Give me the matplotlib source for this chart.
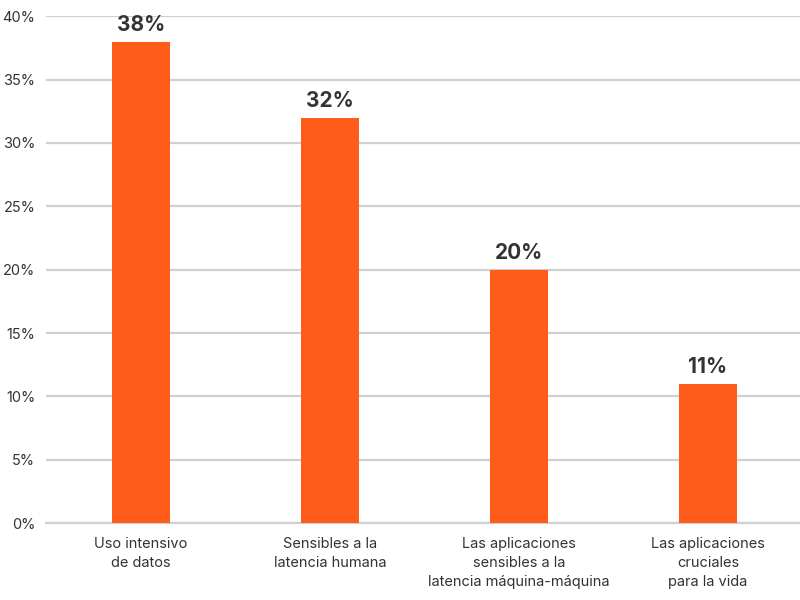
import matplotlib.pyplot as plt
import numpy as np

plt.rcParams['font.family'] = ['Inter', 'DejaVu Sans']

categories = ['Uso intensivo\nde datos',
              'Sensibles a la\nlatencia humana',
              'Las aplicaciones\nsensibles a la\nlatencia máquina-máquina',
              'Las aplicaciones\ncruciales\npara la vida']
values = [38, 32, 20, 11]
yticks = [0, 5, 10, 15, 20, 25, 30, 35, 40]

fig = plt.figure(figsize=(8, 6), dpi=100)
ax = fig.add_axes([0.058, 0.128, 0.945, 0.845])

x = np.arange(len(categories))
ax.bar(x, values, width=0.31, color='#FF5B1B', zorder=3)

for xi, v in zip(x, values):
    ax.text(xi, v + 0.55, f'{v}%', ha='center', va='bottom',
            fontsize=15, fontweight='bold', color='#333333')

ax.set_xlim(-0.5, len(categories) - 0.5)
ax.set_ylim(0, 40)
ax.set_yticks(yticks)
ax.set_yticklabels([f'{t}%' for t in yticks])
ax.set_xticks(x)
ax.set_xticklabels(categories, fontsize=10.5, color='#333333', linespacing=1.45)
ax.tick_params(axis='y', labelsize=10.5, labelcolor='#333333', length=0, pad=8)
ax.tick_params(axis='x', length=0, pad=10)
ax.yaxis.grid(True, color='#d0d0d0', linewidth=1.6, zorder=0)
ax.set_axisbelow(True)
for s in ax.spines.values():
    s.set_visible(False)
ax.spines['bottom'].set_visible(True)
ax.spines['bottom'].set_color('#d0d0d0')
ax.spines['bottom'].set_linewidth(1.6)

fig.savefig('out.png', dpi=100)
